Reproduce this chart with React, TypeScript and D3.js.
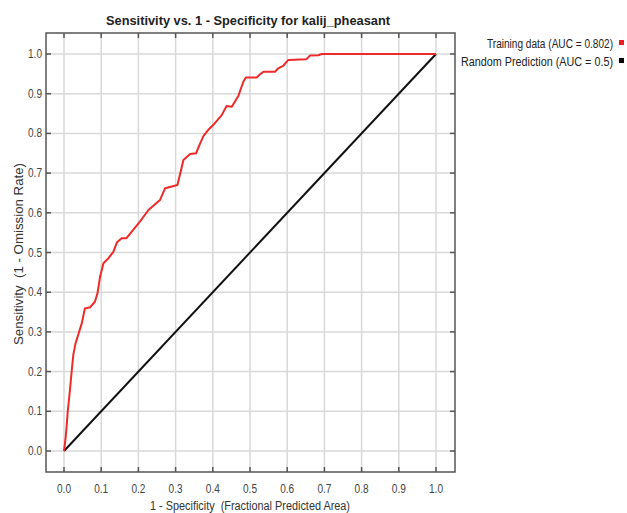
import React from "react";
import * as d3 from "d3";

const fprValues = [0, 0.004, 0.007, 0.010, 0.016, 0.021, 0.025, 0.031, 0.038, 0.048, 0.056, 0.070, 0.083, 0.090, 0.097, 0.106, 0.119, 0.133, 0.142, 0.155, 0.168, 0.186, 0.204, 0.227, 0.258, 0.272, 0.305, 0.321, 0.339, 0.355, 0.366, 0.375, 0.388, 0.401, 0.424, 0.437, 0.451, 0.469, 0.482, 0.489, 0.518, 0.527, 0.536, 0.567, 0.576, 0.590, 0.603, 0.652, 0.661, 0.684, 0.693, 1.0];
const tprValues = [0, 0.03, 0.061, 0.099, 0.154, 0.204, 0.242, 0.271, 0.292, 0.322, 0.359, 0.362, 0.376, 0.397, 0.439, 0.473, 0.485, 0.502, 0.525, 0.536, 0.536, 0.557, 0.578, 0.607, 0.632, 0.662, 0.670, 0.733, 0.748, 0.750, 0.775, 0.794, 0.809, 0.821, 0.846, 0.869, 0.867, 0.895, 0.930, 0.941, 0.941, 0.949, 0.955, 0.955, 0.964, 0.971, 0.985, 0.987, 0.996, 0.997, 1.0, 1.0];
const randomX = [0, 1];
const randomY = [0, 1];
const tickValues = [0, 0.1, 0.2, 0.3, 0.4, 0.5, 0.6, 0.7, 0.8, 0.9, 1.0];
const legendLabels = ["Training data (AUC = 0.802)", "Random Prediction (AUC = 0.5)"];
const legendColors = ["#ee1c1c", "#000000"];
const title = "Sensitivity vs. 1 - Specificity for kalij_pheasant";
const xLabel = "1 - Specificity  (Fractional Predicted Area)";
const yLabel = "Sensitivity  (1 - Omission Rate)";

const FONT = "'Liberation Sans', Arial, sans-serif";

export default function App() {
  const W = 627, H = 513;
  const frame = { l: 46, r: 455, t: 33, b: 472 };
  const x = d3.scaleLinear().domain([0, 1]).range([64, 436]);
  const y = d3.scaleLinear().domain([0, 1]).range([451, 54]);
  const line = d3.line<number>().x((d, i) => x(fprValues[i])).y((d, i) => y(tprValues[i]));
  const rline = d3.line<number>().x((d, i) => x(randomX[i])).y((d, i) => y(randomY[i]));
  const tickLen = 5;
  const adj = { lengthAdjust: "spacingAndGlyphs" as const };
  return (
    <svg width={W} height={H} style={{ position: "absolute", left: 0, top: 0, background: "#fff" }} fontFamily={FONT}>
      <rect x={0} y={0} width={W} height={H} fill="#fff" />
      {/* grid */}
      {tickValues.map((t) => (
        <line key={"gx" + t} x1={x(t)} x2={x(t)} y1={frame.t} y2={frame.b} stroke="#d9d9d9" strokeWidth={1.5} />
      ))}
      {tickValues.map((t) => (
        <line key={"gy" + t} x1={frame.l} x2={frame.r} y1={y(t)} y2={y(t)} stroke="#d9d9d9" strokeWidth={1.5} />
      ))}
      {/* lines */}
      <path d={rline(randomX) || ""} fill="none" stroke="#111" strokeWidth={2} />
      <path d={line(fprValues) || ""} fill="none" stroke="#ee2a2a" strokeWidth={2} strokeLinejoin="round" />
      {/* frame */}
      <rect x={frame.l} y={frame.t} width={frame.r - frame.l} height={frame.b - frame.t} fill="none" stroke="#555" strokeWidth={1.5} />
      {/* ticks */}
      {tickValues.map((t) => (
        <g key={"t" + t} stroke="#555" strokeWidth={1.5}>
          <line x1={x(t)} x2={x(t)} y1={frame.b} y2={frame.b - tickLen} />
          <line x1={x(t)} x2={x(t)} y1={frame.t} y2={frame.t + tickLen} />
          <line x1={frame.l} x2={frame.l + tickLen} y1={y(t)} y2={y(t)} />
          <line x1={frame.r} x2={frame.r - tickLen} y1={y(t)} y2={y(t)} />
        </g>
      ))}
      {/* tick labels */}
      {tickValues.map((t) => (
        <text key={"xl" + t} x={x(t)} y={493} textAnchor="middle" fontSize={12} fill="#444" textLength={14} {...adj}>{t.toFixed(1)}</text>
      ))}
      {tickValues.map((t) => (
        <text key={"yl" + t} x={42} y={y(t) + 4} textAnchor="end" fontSize={12} fill="#444" textLength={14} {...adj}>{t.toFixed(1)}</text>
      ))}
      {/* title */}
      <text x={248} y={25} textAnchor="middle" fontSize={13} fontWeight="bold" fill="#222" textLength={284} {...adj}>{title}</text>
      {/* axis labels */}
      <text x={250} y={510} textAnchor="middle" fontSize={12} fill="#333" textLength={200} {...adj} style={{ whiteSpace: "pre" }}>{xLabel}</text>
      <text transform={`translate(23,${254}) rotate(-90)`} textAnchor="middle" fontSize={12} fill="#333" textLength={182} {...adj} style={{ whiteSpace: "pre" }}>{yLabel}</text>
      {/* legend */}
      {legendLabels.map((lab, i) => (
        <g key={lab}>
          <text x={613} y={48 + i * 18} textAnchor="end" fontSize={12} fill="#222" textLength={i === 0 ? 126 : 152} {...adj}>{lab}</text>
          <rect x={619} y={40 + i * 18} width={5} height={5} fill={legendColors[i]} />
        </g>
      ))}
    </svg>
  );
}
